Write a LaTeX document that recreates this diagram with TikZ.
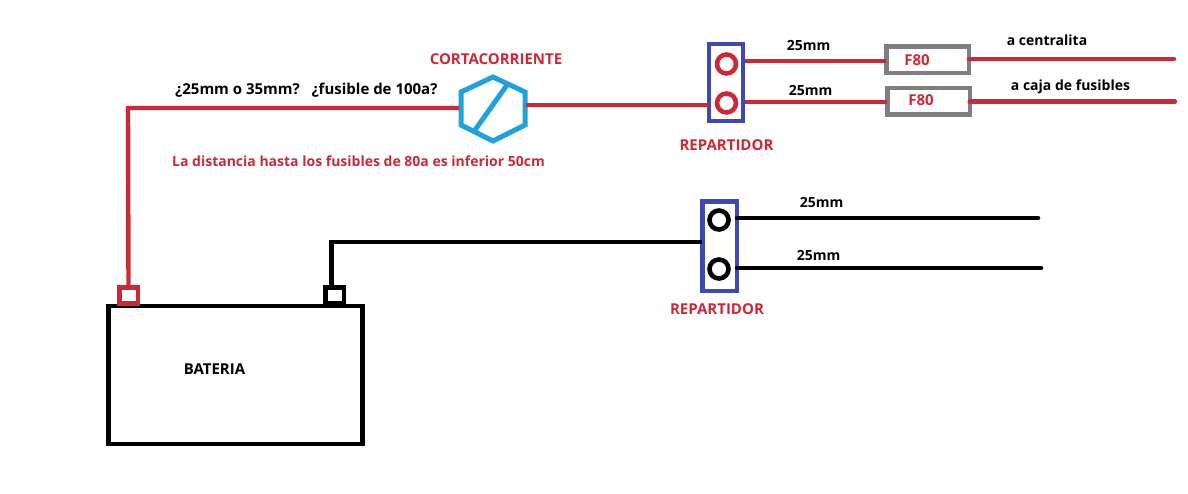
\documentclass[tikz,border=0pt]{standalone}
\usepackage{fontspec}
\setmainfont{Open Sans}
\definecolor{wred}{HTML}{CC2936}
\definecolor{hexblue}{HTML}{1CA3DC}
\definecolor{repblue}{HTML}{4048B4}
\definecolor{fusegrey}{HTML}{7F7F7F}
\tikzset{
  wire/.style={line width=4.4pt,line join=miter},
  redwire/.style={wire,draw=wred},
  blackwire/.style={wire,draw=black,line width=4.5pt},
  box/.style={draw,rectangle,line width=4.5pt,inner sep=0pt,outer sep=0pt},
  repbox/.style={box,draw=repblue,minimum width=34pt,minimum height=77pt},
  fuse/.style={box,draw=fusegrey,minimum width=82.5pt,minimum height=26.5pt},
  terminal/.style={box,minimum width=18.5pt,minimum height=16pt},
  stud/.style={circle,draw,line width=4.6pt,minimum size=19pt,inner sep=0pt,outer sep=0pt},
  blk/.style={font=\bfseries\fontsize{14}{16}\selectfont,text=black,inner sep=0pt},
  redt/.style={font=\bfseries\fontsize{14}{16}\selectfont,text=wred,inner sep=0pt},
  blkbig/.style={blk,font=\bfseries\fontsize{15}{17}\selectfont},
  redbig/.style={redt,font=\bfseries\fontsize{15}{17}\selectfont},
}
\begin{document}
\begin{tikzpicture}[x=1pt,y=-1pt]
\useasboundingbox (0,0) rectangle (1188,493);
% battery
\node[box,draw=black,minimum width=254pt,minimum height=138pt] (bat) at (235.5,375) {};
\node[terminal,draw=wred] (tplus) at (128.5,295.5) {};
\node[terminal,draw=black] (tminus) at (334.5,295.5) {};
\node[blkbig] (batl) at (214.5,369.5) {BATERIA};
% hexagon
\coordinate (hT) at (493,77);
\coordinate (hUR) at (525,92);
\coordinate (hLR) at (525,125);
\coordinate (hB) at (493,141);
\coordinate (hLL) at (461,125);
\coordinate (hUL) at (461,92);
\coordinate (hdA) at (507,85);
\coordinate (hdB) at (475,130);
\draw[draw=hexblue,line width=5pt,line join=miter] (hT)--(hUR)--(hLR)--(hB)--(hLL)--(hUL)--cycle;
\draw[draw=hexblue,line width=5pt] (hdA)--(hdB);
% red distributor
\node[repbox] (rep1) at (726,82.5) {};
\node[stud,draw=wred] (s1a) at (726.5,64) {};
\node[stud,draw=wred] (s1b) at (726.5,103) {};
% fuses
\node[fuse] (f1) at (927.5,59.5) {};
\node[fuse] (f2) at (928.5,101) {};
% black distributor
\node[repbox,minimum width=34.5pt,minimum height=89.5pt] (rep2) at (719.5,246) {};
\node[stud,draw=black] (s2a) at (719,220) {};
\node[stud,draw=black] (s2b) at (719,269) {};
% free ends
\coordinate (cnrA) at (128,108);
\coordinate (hexin) at (459,108);
\coordinate (hexout) at (526,105);
\coordinate (a1) at (745,61);
\coordinate (b1) at (745,102);
\coordinate (e1) at (1174,59);
\coordinate (e2) at (1175,101.5);
\coordinate (cnrB) at (331.5,242);
\coordinate (c1) at (737,218);
\coordinate (c2) at (737,268);
\coordinate (e3) at (1038,218);
\coordinate (e4) at (1041,268);
% red wires
\draw[redwire] (tplus.north) -- (cnrA) -- (hexin);
\draw[redwire] (hexout) -- (rep1.west |- hexout);
\draw[redwire] (a1) -- (f1.west |- a1);
\draw[redwire] (b1) -- (f2.west |- b1);
\draw[redwire,line cap=round] (f1.east |- e1) -- (e1);
\draw[redwire,line cap=round] (f2.east |- e2) -- (e2);
% black wires
\draw[blackwire] (tminus.north) -- (tminus.north -| cnrB) -- (cnrB) -- (rep2.west |- cnrB);
\draw[blackwire,line cap=round] (c1) -- (e3);
\draw[blackwire,line cap=round] (c2) -- (e4);
% labels
\node[blkbig] (t1) at (237.5,90) {¿25mm o 35mm?};
\node[blkbig] (t2) at (374.5,90) {¿fusible de 100a?};
\node[redbig] (t3) at (496,59) {CORTACORRIENTE};
\node[redt] (t4) at (358.5,161) {La distancia hasta los fusibles de 80a es inferior 50cm};
\node[redbig] (t5) at (726.5,145.5) {REPARTIDOR};
\node[redbig] (t6) at (717,309) {REPARTIDOR};
\node[blk] (m1) at (808.5,45) {25mm};
\node[blk] (m2) at (810.5,90) {25mm};
\node[blk] (m3) at (821.5,202) {25mm};
\node[blk] (m4) at (818.5,255) {25mm};
\node[redbig] (l1) at (917,60) {F80};
\node[redbig] (l2) at (921,100) {F80};
\node[blk] (d1) at (1047,40) {a centralita};
\node[blk] (d2) at (1070.5,87) {a caja de fusibles};
\end{tikzpicture}
\end{document}
